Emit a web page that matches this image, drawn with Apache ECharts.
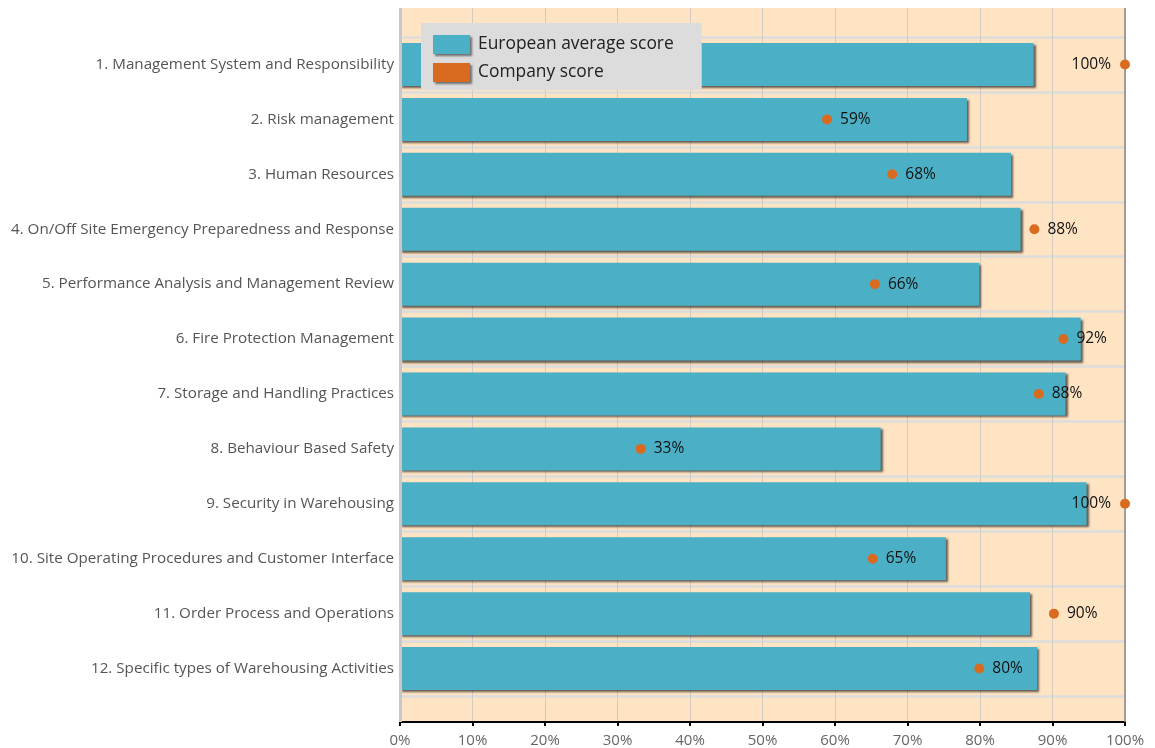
<!DOCTYPE html>
<html>
<head>
<meta charset="utf-8">
<script src="https://cdn.jsdelivr.net/npm/echarts@6/dist/echarts.min.js"></script>
<style>
html,body{margin:0;padding:0;background:#fff;}
#main{width:1155px;height:748px;}
</style>
</head>
<body>
<div id="main"></div>
<script>
const categories = [
  "1. Management System and Responsibility",
  "2. Risk management",
  "3. Human Resources",
  "4. On/Off Site Emergency Preparedness and Response",
  "5. Performance Analysis and Management Review",
  "6. Fire Protection Management",
  "7. Storage and Handling Practices",
  "8. Behaviour Based Safety",
  "9. Security in Warehousing",
  "10. Site Operating Procedures and Customer Interface",
  "11. Order Process and Operations",
  "12. Specific types of Warehousing Activities"
];
const europeanAverage = [87.4, 78.2, 84.3, 85.6, 79.9, 93.9, 91.8, 66.3, 94.7, 75.3, 86.9, 87.9];
const companyScore = [100, 58.9, 67.9, 87.5, 65.5, 91.5, 88.1, 33.2, 100, 65.2, 90.2, 79.9];
const xTicks = [0, 10, 20, 30, 40, 50, 60, 70, 80, 90, 100];

const FONT = "'Open Sans', 'Noto Sans', sans-serif";
const chart = echarts.init(document.getElementById('main'));

const scatterData = companyScore.map((v, i) => ({
  value: [v, categories[i]],
  label: { position: v >= 99.5 ? 'left' : 'right', distance: v >= 99.5 ? 9 : 8 }
}));

chart.setOption({
  animation: false,
  textStyle: { fontFamily: FONT },
  legend: {
    left: 421, top: 23,
    orient: 'vertical',
    backgroundColor: '#dcdcdc',
    padding: [12, 28, 8, 12],
    itemWidth: 37, itemHeight: 19, itemGap: 9,
    icon: 'rect',
    textStyle: { fontSize: 17.4, color: '#222', fontFamily: FONT, padding: [0, 0, 0, 3] },
    itemStyle: { shadowBlur: 2, shadowOffsetX: 2, shadowOffsetY: 2, shadowColor: 'rgba(0,0,0,0.5)' },
    data: ['European average score', 'Company score']
  },
  grid: [
    { left: 400, right: 30, top: 8, bottom: 26, show: true, backgroundColor: '#FFE4C4', borderWidth: 0, z: 0 },
    { left: 400, right: 30, top: 37, bottom: 52, show: false }
  ],
  xAxis: [
    {
      gridIndex: 0, type: 'value', min: 0, max: 100, interval: 10,
      axisLine: { show: true, lineStyle: { color: '#000', width: 2 } },
      axisTick: { show: true, length: 4, lineStyle: { color: '#000', width: 2 } },
      axisLabel: { color: '#666', fontSize: 15, margin: 11, formatter: v => v + '%' },
      splitLine: { show: true, lineStyle: { color: '#d4cbc0', width: 1 } }
    },
    {
      gridIndex: 1, type: 'value', min: 0, max: 100, interval: 10, show: false,
      splitLine: { show: false }
    }
  ],
  yAxis: [
    {
      gridIndex: 0, type: 'value', min: 0, max: 1, show: false, splitLine: { show: false }
    },
    {
      gridIndex: 1, type: 'category', inverse: true, data: categories,
      axisLine: { show: false },
      axisTick: { show: false },
      axisLabel: { color: '#555', fontSize: 15.2, margin: 6 },
      splitLine: { show: true, lineStyle: { color: '#dcdcdc', width: 2.5 } }
    }
  ],
  series: [
    {
      name: 'European average score', type: 'bar',
      xAxisIndex: 1, yAxisIndex: 1,
      data: europeanAverage,
      barWidth: 43,
      itemStyle: {
        color: '#4BB0C5',
        shadowBlur: 2, shadowOffsetX: 2, shadowOffsetY: 2, shadowColor: 'rgba(0,0,0,0.6)'
      },
      z: 2
    },
    {
      name: 'Company score', type: 'scatter',
      xAxisIndex: 1, yAxisIndex: 1,
      data: scatterData,
      symbol: 'circle', symbolSize: 10,
      itemStyle: { color: '#D86B1F', opacity: 1 },
      label: {
        show: true, color: '#111', fontSize: 15.5, fontFamily: FONT,
        formatter: p => Math.round(p.value[0]) + '%'
      },
      z: 5
    },
    {
      name: 'frame', type: 'line', xAxisIndex: 0, yAxisIndex: 0,
      data: [], silent: true,
      markLine: {
        silent: true, symbol: 'none', label: { show: false },
        data: [
          { xAxis: 0, lineStyle: { color: '#c8c8c8', width: 3, type: 'solid' } },
          { xAxis: 100, lineStyle: { color: '#8a8a8a', width: 1.5, type: 'solid' } }
        ]
      },
      z: 1
    }
  ]
});
</script>
</body>
</html>
